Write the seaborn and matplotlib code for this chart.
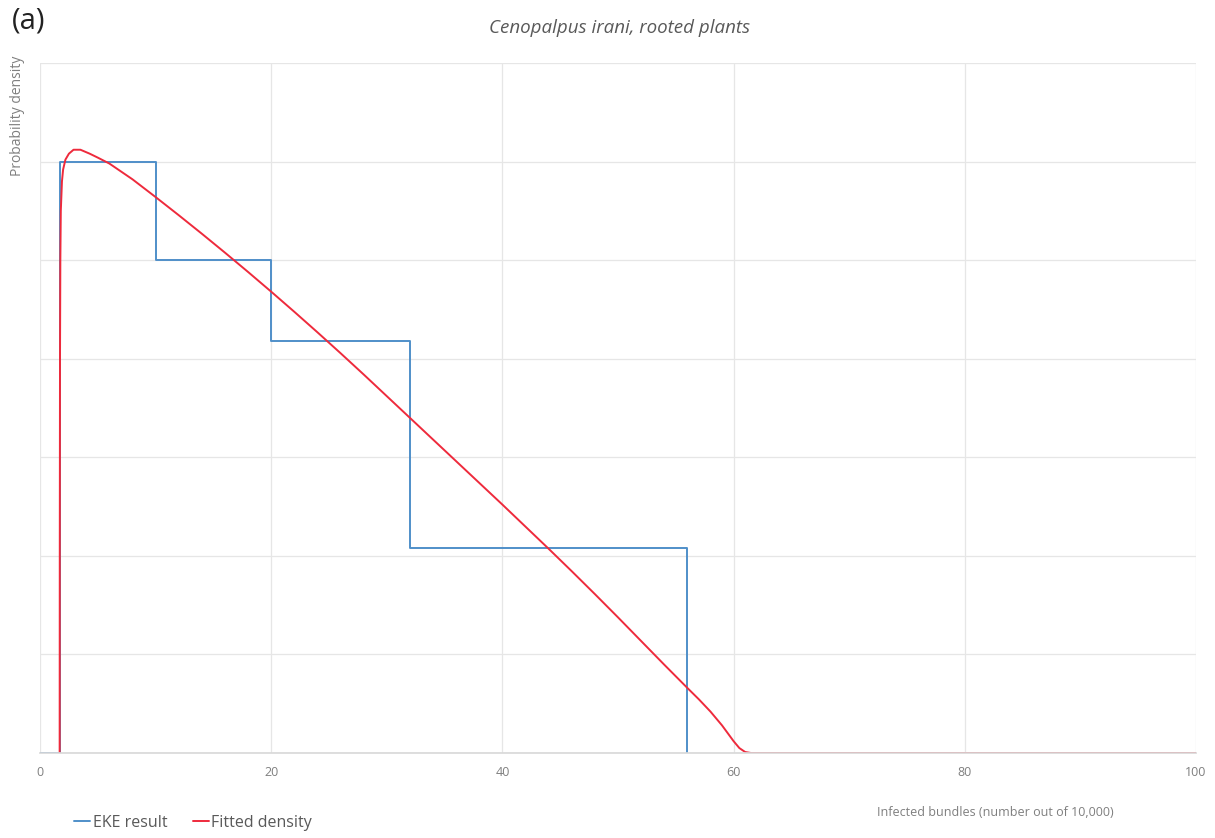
import matplotlib
matplotlib.use("Agg")
import matplotlib.pyplot as plt
import seaborn as sns
import pandas as pd

# EKE result (step function): bin edges and densities
eke_x = [0, 1.7, 10, 20, 32, 56]
eke_y = [0, 0.0300, 0.0250, 0.0209, 0.0104, 0]

# Fitted density
fit_x = [1.70, 1.71, 1.73, 1.76, 1.80, 1.90, 2.0, 2.2, 2.5, 2.9, 3.5, 4.3, 5.0, 6.0,
         8, 10, 12, 14, 16, 18, 20, 22, 24, 26, 28, 30, 32, 34, 36, 38, 40, 42, 44,
         46, 48, 50, 52, 54, 56, 57, 58, 59, 59.5, 60, 60.5, 61, 61.5, 100]
fit_y = [0, 0.0100, 0.0200, 0.0250, 0.0275, 0.0290, 0.0296, 0.0301, 0.0304, 0.0306,
         0.0306, 0.0304, 0.0302, 0.0299,
         0.0291, 0.02820, 0.02728, 0.02634, 0.02538, 0.02440, 0.02340, 0.02238,
         0.02134, 0.02028, 0.01920, 0.01810, 0.01700, 0.01590, 0.01480, 0.01370,
         0.01260, 0.01148, 0.01036, 0.00922, 0.00806, 0.00688, 0.00568, 0.00448,
         0.00330, 0.00272, 0.00210, 0.00140, 0.00100, 0.00060, 0.00025, 0.00005, 0, 0]

x_ticks = [0, 20, 40, 60, 80, 100]
y_grid = [0, 0.005, 0.010, 0.015, 0.020, 0.025, 0.030, 0.035]

title = "Cenopalpus irani, rooted plants"
panel = "(a)"
xlabel = "Infected bundles (number out of 10,000)"
ylabel = "Probability density"

sns.set_theme(style="white")
plt.rcParams['font.family'] = ['Open Sans', 'DejaVu Sans']

fig = plt.figure(figsize=(12.15, 8.38), dpi=100)
ax = fig.add_axes([40/1215, 85/838, 1156/1215, 690/838])

blue = "#4f8fc9"
red = "#ee2a3c"

eke_df = pd.DataFrame({"x": eke_x, "y": eke_y})
fit_df = pd.DataFrame({"x": fit_x, "y": fit_y})
sns.lineplot(data=eke_df, x="x", y="y", ax=ax, color=blue, lw=1.4,
             drawstyle="steps-post", sort=False, estimator=None, label="EKE result")
sns.lineplot(data=fit_df, x="x", y="y", ax=ax, color=red, lw=1.4,
             sort=False, estimator=None, label="Fitted density")

ax.set_xlim(0, 100)
ax.set_ylim(0, 0.035)
ax.set_xticks(x_ticks)
ax.set_xticklabels([str(t) for t in x_ticks])
ax.set_yticks(y_grid)
ax.set_yticklabels([])
ax.tick_params(axis="x", length=0, labelsize=9, colors="#7f7f7f", pad=9)
ax.tick_params(axis="y", length=0)
ax.grid(True, color="#e6e6e6", lw=0.9)
for s in ["left", "right", "top"]:
    ax.spines[s].set_visible(False)
ax.spines["bottom"].set_color("#d9d9d9")
ax.set_xlabel("")
ax.set_ylabel("")

ax.legend_.remove()
handles, labels = ax.get_legend_handles_labels()
fig.legend(handles, labels, loc="center left", bbox_to_anchor=(60/1215, 1 - 823/838),
           ncol=2, frameon=False, handlelength=1.0, handletextpad=0.15,
           columnspacing=1.6, fontsize=11.5, labelcolor="#595959")

fig.text(620/1215, 1 - 28/838, title, ha="center", va="center", fontsize=13.5,
         style="italic", color="#595959")
fig.text(12/1215, 1 - 21/838, panel, ha="left", va="center", fontsize=21, color="#222222")
fig.text(18/1215, 1 - 56/838, ylabel, ha="center", va="top", rotation=90,
         fontsize=10, color="#7f7f7f")
fig.text(995/1215, 1 - 812/838, xlabel, ha="center", va="center", fontsize=9,
         color="#7f7f7f")

fig.savefig("out.png", dpi=100)
